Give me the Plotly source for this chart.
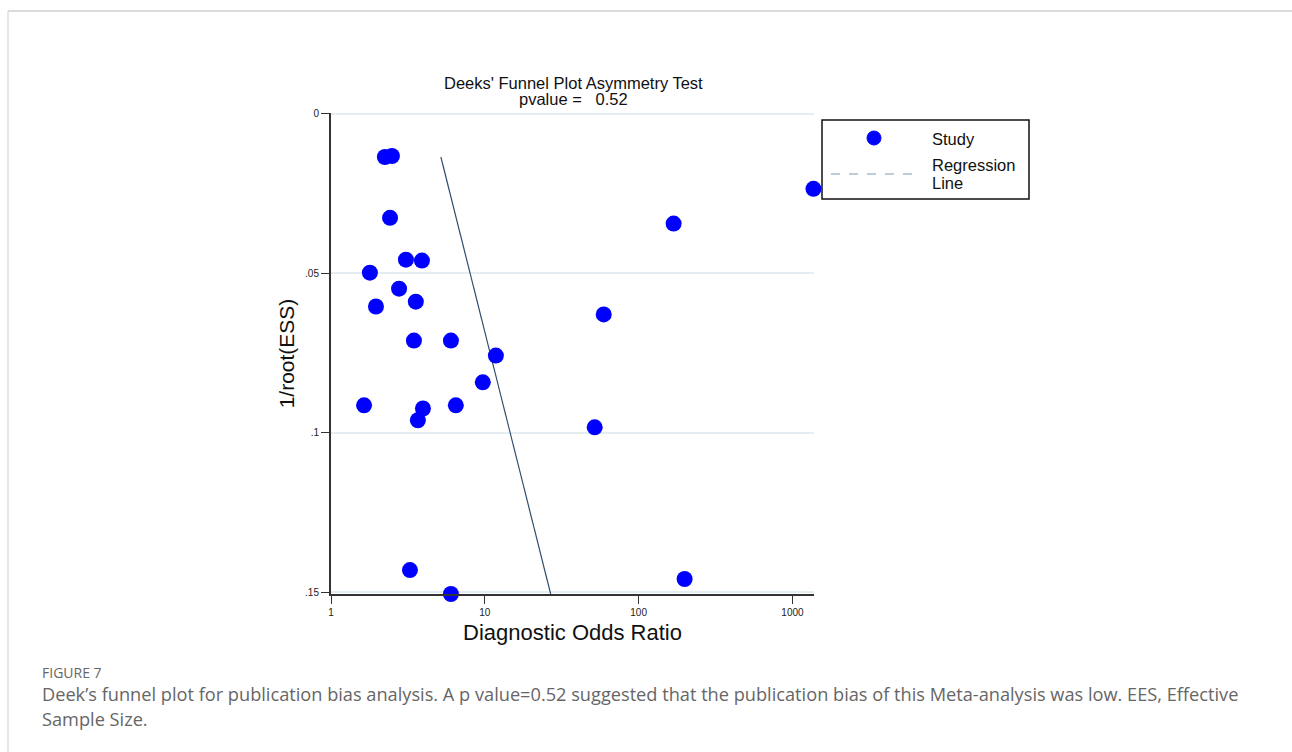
import plotly.graph_objects as go

# ---- data ----
dor = [2.24, 2.49, 2.42, 3.07, 3.90, 1.79, 2.77, 3.56, 1.96, 3.46, 6.02, 11.8,
       9.70, 1.64, 3.96, 6.48, 3.67, 3.26, 6.02, 168.8, 59.3, 51.8, 199.0, 1369.0]
inv_root_ess = [0.0135, 0.0132, 0.0326, 0.0457, 0.0460, 0.0498, 0.0548, 0.0589,
                0.0604, 0.0711, 0.0711, 0.0758, 0.0842, 0.0914, 0.0924, 0.0914,
                0.0961, 0.1431, 0.1506, 0.0344, 0.0629, 0.0983, 0.1459, 0.0235]
reg_x = [5.18, 26.8]
reg_y = [0.0135, 0.1506]
x_ticks = [1, 10, 100, 1000]
x_ticklabels = ["1", "10", "100", "1000"]
y_ticks = [0, 0.05, 0.1, 0.15]
y_ticklabels = ["0", ".05", ".1", ".15"]

W, H = 1292, 752
L, R, T, B = 331, 814, 113, 594

def px(xp):
    return (xp - L) / (R - L)

def py(yp):
    return (B - yp) / (B - T)

fig = go.Figure()
fig.add_trace(go.Scatter(x=reg_x, y=reg_y, mode="lines",
                         line=dict(color="#2f4f6f", width=1.2),
                         showlegend=False, hoverinfo="skip"))
fig.add_trace(go.Scatter(x=dor, y=inv_root_ess, mode="markers",
                         marker=dict(color="#0000ff", size=16),
                         cliponaxis=False, showlegend=False))

fig.update_xaxes(type="log", range=[0, 3.14], tickvals=x_ticks, ticktext=x_ticklabels,
                 ticks="outside", ticklen=8, tickwidth=1, tickcolor="#333",
                 showline=True, linecolor="#333", linewidth=2,
                 showgrid=False, zeroline=False,
                 tickfont=dict(family="Liberation Sans, Arial", size=10, color="#222"),
                 title=dict(text="Diagnostic Odds Ratio", standoff=8,
                            font=dict(family="Liberation Sans, Arial", size=22, color="#111")))
fig.update_yaxes(range=[0.1506, -0.0003], tickvals=y_ticks, ticktext=y_ticklabels,
                 ticks="outside", ticklen=8, tickwidth=1, tickcolor="#333",
                 showline=True, linecolor="#333", linewidth=2,
                 showgrid=True, gridcolor="#e4edf1", gridwidth=2, zeroline=False,
                 tickfont=dict(family="Liberation Sans, Arial", size=10, color="#222"),
                 title=dict(text="1/root(ESS)", standoff=5,
                            font=dict(family="Liberation Sans, Arial", size=21, color="#111")))

shapes = [
    # gridline at 0 (top edge)
    dict(type="line", xref="x domain", yref="y", x0=0, x1=1, y0=y_ticks[0], y1=y_ticks[0],
         line=dict(color="#e4edf1", width=2), layer="below"),
    # page frame (top and left)
    dict(type="line", xref="paper", yref="paper", x0=px(8), x1=px(1292), y0=py(11), y1=py(11),
         line=dict(color="#cfcfcf", width=1.5)),
    dict(type="line", xref="paper", yref="paper", x0=px(8), x1=px(8), y0=py(11), y1=py(752),
         line=dict(color="#cfcfcf", width=1)),
    # legend box
    dict(type="rect", xref="paper", yref="paper", x0=px(822), x1=px(1029), y0=py(120), y1=py(199),
         line=dict(color="#111", width=1.5), fillcolor="white"),
    dict(type="circle", xref="paper", yref="paper", x0=px(867), x1=px(881), y0=py(131), y1=py(145),
         line=dict(color="#0000ff", width=1), fillcolor="#0000ff"),
    dict(type="line", xref="paper", yref="paper", x0=px(831), x1=px(917), y0=py(174), y1=py(174),
         line=dict(color="#7f98b4", width=1, dash="dash")),
]

ann_font = dict(family="Liberation Sans, Arial", size=16.5, color="#111")
annotations = [
    dict(text="Deeks' Funnel Plot Asymmetry Test", x=px(573), y=py(83), xref="paper", yref="paper",
         showarrow=False, xanchor="center", yanchor="middle", font=ann_font),
    dict(text="pvalue\u00a0=\u00a0\u00a0\u00a00.52", x=px(573), y=py(99), xref="paper", yref="paper",
         showarrow=False, xanchor="center", yanchor="middle", font=ann_font),
    dict(text="Study", x=px(930), y=py(139), xref="paper", yref="paper",
         showarrow=False, xanchor="left", yanchor="middle", font=ann_font),
    dict(text="Regression", x=px(930), y=py(165), xref="paper", yref="paper",
         showarrow=False, xanchor="left", yanchor="middle", font=ann_font),
    dict(text="Line", x=px(930), y=py(183), xref="paper", yref="paper",
         showarrow=False, xanchor="left", yanchor="middle", font=ann_font),
    dict(text="FIGURE 7", x=px(40), y=py(672), xref="paper", yref="paper",
         showarrow=False, xanchor="left", yanchor="middle",
         font=dict(family="Open Sans", size=14, color="#666")),
    dict(text="Deek\u2019s funnel plot for publication bias analysis. A p value=0.52 suggested that the publication bias of this Meta-analysis was low. EES, Effective",
         x=px(40), y=py(694), xref="paper", yref="paper",
         showarrow=False, xanchor="left", yanchor="middle",
         font=dict(family="Open Sans", size=18.2, color="#666")),
    dict(text="Sample Size.", x=px(40), y=py(719), xref="paper", yref="paper",
         showarrow=False, xanchor="left", yanchor="middle",
         font=dict(family="Open Sans", size=18.2, color="#666")),
]

fig.update_layout(width=W, height=H, margin=dict(l=L, r=W - R, t=T, b=H - B),
                  paper_bgcolor="white", plot_bgcolor="white",
                  shapes=shapes, annotations=annotations, showlegend=False)

fig.write_html("out.html")
